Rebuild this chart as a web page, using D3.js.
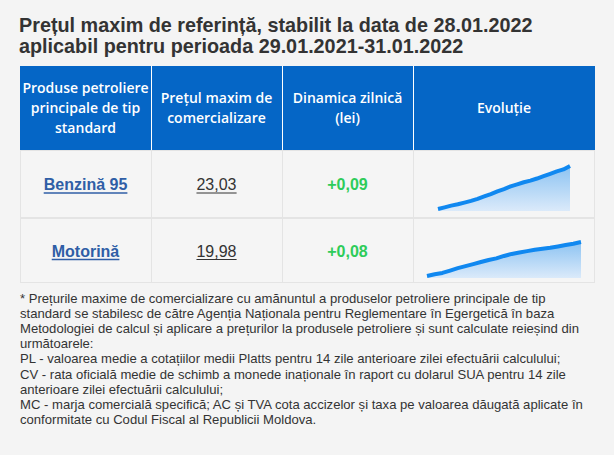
<!DOCTYPE html>
<html>
<head>
<meta charset="utf-8">
<script src="https://cdn.jsdelivr.net/npm/d3@7"></script>
<style>
  html, body { margin: 0; padding: 0; background: #f4f4f4; }
  svg { display: block; }
</style>
</head>
<body>
<div id="chart"></div>
<script>
// Chart data
const titleLines = [
  "Prețul maxim de referință, stabilit la data de 28.01.2022",
  "aplicabil pentru perioada 29.01.2021-31.01.2022"
];
const headerLabels = [
  ["Produse petroliere", "principale de tip", "standard"],
  ["Prețul maxim de", "comercializare"],
  ["Dinamica zilnică", "(lei)"],
  ["Evoluție"]
];
const products = ["Benzină 95", "Motorină"];
const maxPrices = [23.03, 19.98];
const dailyChange = [0.09, 0.08];
const benzinaTrend = [17.60, 17.81, 18.03, 18.20, 18.41, 18.63, 18.88, 19.18, 19.48, 19.82, 20.12,
                      20.46, 20.72, 20.98, 21.19, 21.45, 21.75, 22.05, 22.35, 22.60, 23.03];
const motorinaTrend = [15.30, 15.53, 15.72, 16.05, 16.38, 16.66, 16.94, 17.22, 17.50, 17.73, 18.06,
                       18.34, 18.53, 18.72, 18.90, 19.04, 19.18, 19.37, 19.56, 19.75, 19.98];
const footnoteLines = [
  "* Prețurile maxime de comercializare cu amănuntul a produselor petroliere principale de tip",
  "standard se stabilesc de către Agenția Naționala pentru Reglementare în Egergetică în baza",
  "Metodologiei de calcul și aplicare a prețurilor la produsele petroliere și sunt calculate reieșind din",
  "următoarele:",
  "PL - valoarea medie a cotațiilor medii Platts pentru 14 zile anterioare zilei efectuării calculului;",
  "CV - rata oficială medie de schimb a monede inaționale în raport cu dolarul SUA pentru 14 zile",
  "anterioare zilei efectuării calculului;",
  "MC - marja comercială specifică; AC și TVA cota accizelor și taxa pe valoarea dăugată aplicate în",
  "conformitate cu Codul Fiscal al Republicii Moldova."
];
const trends = [benzinaTrend, motorinaTrend];

// Size and layout
let svgWidth = 614;
let svgHeight = 455;
let table = { left: 20, top: 66, headerHeight: 84, rowHeights: [68, 65] };
let colWidths = [131, 131, 131, 182];
let colX = [table.left];
colWidths.forEach((w, i) => colX.push(colX[i] + w));
let rowY = [table.top + table.headerHeight];
table.rowHeights.forEach((h, i) => rowY.push(rowY[i] + h));

// sparkline boxes differ a bit per row in the picture
let sparkBoxes = [
  { x0: 438, x1: 570, y0: 166, y1: 211 },
  { x0: 427, x1: 581, y0: 242, y1: 278 }
];

let roFormat = d3.formatLocale({ decimal: ",", thousands: ".", grouping: [3], currency: ["", " lei"] });
let priceFmt = roFormat.format(".2f");
let changeFmt = roFormat.format("+.2f");

let svg = d3.select("#chart")
  .append("svg")
  .attr("width", svgWidth)
  .attr("height", svgHeight);

svg.append("rect")
  .attr("width", svgWidth)
  .attr("height", svgHeight)
  .attr("fill", "#f4f4f4");

// Title
svg.append("g")
  .selectAll("text")
  .data(titleLines)
  .enter()
  .append("text")
  .attr("x", 19)
  .attr("y", (d, i) => 32 + i * 21)
  .style("font-family", "Arial, 'Liberation Sans', sans-serif")
  .style("font-weight", "bold")
  .style("font-size", "19.8px")
  .style("fill", "#333333")
  .text(d => d);

// Header
let header = svg.append("g");
header.append("rect")
  .attr("x", table.left)
  .attr("y", table.top)
  .attr("width", colX[4] - colX[0])
  .attr("height", table.headerHeight)
  .attr("fill", "#0566c6");

header.selectAll("line")
  .data(colX.slice(1, 4))
  .enter()
  .append("line")
  .attr("x1", d => d + 0.5)
  .attr("x2", d => d + 0.5)
  .attr("y1", table.top)
  .attr("y2", table.top + table.headerHeight)
  .attr("stroke", "#ffffff")
  .attr("stroke-width", 1);

headerLabels.forEach(function (lines, c) {
  let cx = (colX[c] + colX[c + 1]) / 2;
  let midY = table.top + table.headerHeight / 2;
  let lh = 20;
  header.append("g")
    .selectAll("text")
    .data(lines)
    .enter()
    .append("text")
    .attr("x", cx)
    .attr("y", (d, i) => midY + (i - (lines.length - 1) / 2) * lh + 5)
    .style("font-family", "'Open Sans', sans-serif")
    .style("font-weight", "600")
    .style("font-size", "14px")
    .style("text-anchor", "middle")
    .style("fill", "#ffffff")
    .text(d => d);
});

// Body rows
let body = svg.append("g");
body.selectAll("rect.row")
  .data(products)
  .enter()
  .append("rect")
  .attr("class", "row")
  .attr("x", table.left + 0.5)
  .attr("y", (d, i) => rowY[i] + 0.5)
  .attr("width", colX[4] - colX[0] - 1)
  .attr("height", (d, i) => table.rowHeights[i] - 1)
  .attr("fill", "#f5f5f5")
  .attr("stroke", "#e4e4e4");

body.selectAll("line.col")
  .data(colX.slice(1, 4))
  .enter()
  .append("line")
  .attr("class", "col")
  .attr("x1", d => d + 0.5)
  .attr("x2", d => d + 0.5)
  .attr("y1", rowY[0])
  .attr("y2", rowY[2])
  .attr("stroke", "#e4e4e4");

// helper to draw an underline under a text node
function underline(textSel, color, width) {
  textSel.each(function () {
    let bb = this.getBBox();
    body.append("line")
      .attr("x1", bb.x)
      .attr("x2", bb.x + bb.width)
      .attr("y1", +this.getAttribute("y") + 3)
      .attr("y2", +this.getAttribute("y") + 3)
      .attr("stroke", color)
      .attr("stroke-width", width);
  });
}

let rowMid = products.map((d, i) => rowY[i] + table.rowHeights[i] / 2 + 6);

let productText = body.selectAll("text.product")
  .data(products)
  .enter()
  .append("text")
  .attr("class", "product")
  .attr("x", (colX[0] + colX[1]) / 2)
  .attr("y", (d, i) => rowMid[i])
  .style("font-family", "Arial, 'Liberation Sans', sans-serif")
  .style("font-weight", "bold")
  .style("font-size", "16px")
  .style("text-anchor", "middle")
  .style("fill", "#2f5ea6")
  .text(d => d);
underline(productText, "#2f5ea6", 1.5);

let priceText = body.selectAll("text.price")
  .data(maxPrices)
  .enter()
  .append("text")
  .attr("class", "price")
  .attr("x", (colX[1] + colX[2]) / 2)
  .attr("y", (d, i) => rowMid[i])
  .style("font-family", "Arial, 'Liberation Sans', sans-serif")
  .style("font-size", "16px")
  .style("text-anchor", "middle")
  .style("fill", "#333333")
  .text(d => priceFmt(d));
underline(priceText, "#333333", 1);

body.selectAll("text.change")
  .data(dailyChange)
  .enter()
  .append("text")
  .attr("class", "change")
  .attr("x", (colX[2] + colX[3]) / 2)
  .attr("y", (d, i) => rowMid[i])
  .style("font-family", "Arial, 'Liberation Sans', sans-serif")
  .style("font-weight", "bold")
  .style("font-size", "16px")
  .style("text-anchor", "middle")
  .style("fill", "#2ecc5a")
  .text(d => changeFmt(d));

// Sparklines
let defs = svg.append("defs");
let grad = defs.append("linearGradient")
  .attr("id", "sparkFill")
  .attr("x1", 0).attr("y1", 0)
  .attr("x2", 0).attr("y2", 1);
grad.append("stop").attr("offset", "0%").attr("stop-color", "#8cc3f2");
grad.append("stop").attr("offset", "100%").attr("stop-color", "#dbeafa");

trends.forEach(function (values, i) {
  let box = sparkBoxes[i];
  let x = d3.scaleLinear()
    .domain([0, values.length - 1])
    .range([box.x0, box.x1]);
  let y = d3.scaleLinear()
    .domain(d3.extent(values))
    .range([box.y1 - 2, box.y0]);

  let area = d3.area()
    .x((d, j) => x(j))
    .y0(box.y1)
    .y1(d => y(d));
  let line = d3.line()
    .x((d, j) => x(j))
    .y(d => y(d));

  svg.append("path")
    .datum(values)
    .attr("d", area)
    .attr("fill", "url(#sparkFill)");

  svg.append("path")
    .datum(values)
    .attr("d", line)
    .attr("fill", "none")
    .attr("stroke", "#1088f0")
    .attr("stroke-width", 4)
    .attr("stroke-linejoin", "round");
});

// Footnote
svg.append("g")
  .selectAll("text")
  .data(footnoteLines)
  .enter()
  .append("text")
  .attr("x", 20)
  .attr("y", (d, i) => 303 + i * 15.1)
  .style("font-family", "Arial, 'Liberation Sans', sans-serif")
  .style("font-size", "13.1px")
  .style("fill", "#333333")
  .text(d => d);
</script>
</body>
</html>
